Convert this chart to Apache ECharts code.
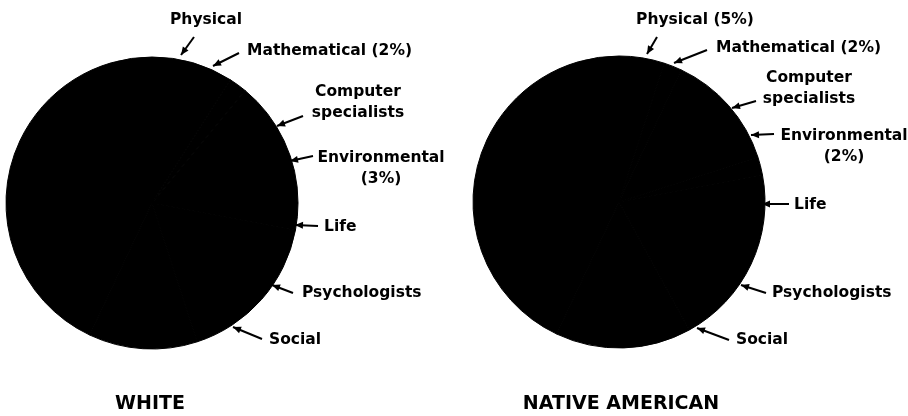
<!DOCTYPE html>
<html>
<head>
<meta charset="utf-8">
<script src="https://cdn.jsdelivr.net/npm/echarts@6/dist/echarts.min.js"></script>
<style>
html, body { margin: 0; padding: 0; background: #fff; }
#main { width: 908px; height: 416px; }
</style>
</head>
<body>
<div id="main"></div>
<script>
var fields = ['Physical', 'Mathematical', 'Computer specialists', 'Environmental', 'Life', 'Psychologists', 'Social'];
// estimated shares (the scan shows the pies as solid black)
var whiteValues = [9, 2, 14, 3, 17, 12, 43];
var nativeValues = [5, 2, 13, 2, 20, 15, 43];
// shares printed next to the labels, null = not printed
var whiteShown = [null, 2, null, 3, null, null, null];
var nativeShown = [5, 2, null, 2, null, null, null];
var groupNames = ['WHITE', 'NATIVE AMERICAN'];

// label anchors [x, y, align] and arrows [tailX, tailY, tipX, tipY]
var whiteLabels = [[206, 20, 'center'], [247, 51, 'left'], [358, 102, 'center'], [381, 168, 'center'],
    [324, 227, 'left'], [302, 293, 'left'], [269, 340, 'left']];
var whiteArrows = [[194, 37, 181, 55], [239, 53, 213, 66], [303, 116, 277, 126], [313, 156, 290, 161],
    [318, 226, 295, 225], [293, 293, 272, 285], [262, 339, 233, 327]];
var nativeLabels = [[695, 20, 'center'], [716, 48, 'left'], [809, 88, 'center'], [844, 146, 'center'],
    [794, 205, 'left'], [772, 293, 'left'], [736, 340, 'left']];
var nativeArrows = [[657, 37, 647, 54], [707, 50, 674, 63], [756, 101, 732, 108], [774, 134, 751, 135],
    [789, 204, 762, 204], [766, 293, 741, 285], [729, 340, 697, 328]];

function labelText(i, shown) {
    var name = fields[i] == 'Computer specialists' ? 'Computer\nspecialists' : fields[i];
    if (shown[i] == null) return name;
    var sep = fields[i] == 'Environmental' ? '\n' : ' ';
    return name + sep + '(' + shown[i] + '%)';
}

function makePie(values, shown, labels, arrows, center) {
    return {
        type: 'pie',
        center: center,
        radius: 146,
        startAngle: 90,
        clockwise: true,
        silent: true,
        avoidLabelOverlap: false,
        itemStyle: { color: '#000', borderColor: '#000', borderWidth: 1 },
        label: {
            show: true,
            color: '#000',
            fontFamily: 'DejaVu Sans',
            fontWeight: 'bold',
            fontSize: 15.5,
            lineHeight: 21,
            overflow: 'none',
            formatter: function (p) { return labelText(p.dataIndex, shown); }
        },
        labelLine: { show: true, lineStyle: { color: '#000', width: 2 } },
        labelLayout: function (p) {
            var l = labels[p.dataIndex], a = arrows[p.dataIndex];
            return {
                x: l[0], y: l[1], align: l[2], verticalAlign: 'middle', hideOverlap: false,
                labelLinePoints: [[a[2], a[3]], [(a[0] + a[2]) / 2, (a[1] + a[3]) / 2], [a[0], a[1]]]
            };
        },
        emphasis: { disabled: true },
        data: values.map(function (v, i) { return { name: fields[i], value: v }; })
    };
}

// arrow heads at the tip end of each label line
function heads(arrows) {
    return arrows.map(function (a) {
        var dx = a[2] - a[0], dy = a[3] - a[1];
        var len = Math.sqrt(dx * dx + dy * dy);
        var ux = dx / len, uy = dy / len;
        var bx = a[2] - ux * 8, by = a[3] - uy * 8;
        return {
            type: 'polygon',
            shape: { points: [[a[2], a[3]], [bx - uy * 3.5, by + ux * 3.5], [bx + uy * 3.5, by - ux * 3.5]] },
            style: { fill: '#000' },
            silent: true
        };
    });
}

var myChart = echarts.init(document.getElementById('main'));

var option = {
    animation: false,
    backgroundColor: '#fff',
    title: [
        { text: groupNames[0], left: 150, top: 395, textAlign: 'center', padding: 0,
          textStyle: { fontFamily: 'DejaVu Sans', fontWeight: 'bold', fontSize: 19, color: '#000' } },
        { text: groupNames[1], left: 621, top: 395, textAlign: 'center', padding: 0,
          textStyle: { fontFamily: 'DejaVu Sans', fontWeight: 'bold', fontSize: 19, color: '#000' } }
    ],
    graphic: heads(whiteArrows).concat(heads(nativeArrows)),
    series: [
        makePie(whiteValues, whiteShown, whiteLabels, whiteArrows, [152, 203]),
        makePie(nativeValues, nativeShown, nativeLabels, nativeArrows, [619, 202])
    ]
};

myChart.setOption(option);
</script>
</body>
</html>
